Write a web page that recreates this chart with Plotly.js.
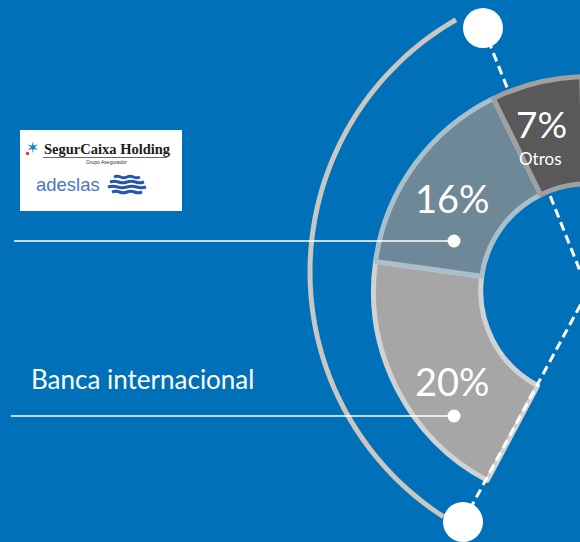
<!DOCTYPE html>
<html><head><meta charset="utf-8">
<script src="https://cdn.plot.ly/plotly-3.0.1.min.js"></script>
<style>
html,body{margin:0;padding:0;overflow:hidden;background:#0070b8;width:580px;height:542px}
#chart{width:1176px;height:542px}
</style>
</head><body><div id="chart"></div>
<script>
// ---- data ----
const labels = ['Banca internacional', 'SegurCaixa Adeslas', 'Otros', 'Resto'];
const values = [20, 16, 7, 60];
const sliceNames = ['', '', 'Otros', ''];
const sideLabel = 'Banca internacional';

// ---- geometry helpers (pixel -> paper) ----
const W = 1176, H = 542;
const px = x => x / W;
const py = y => 1 - y / H;
const CX = 588, CY = 291, R = 214.5;

const fills = ['#a6a6a6', '#6f8898', '#595959', 'rgba(0,0,0,0)'];
const borders = ['#d2d2d2', '#a9bfca', '#a0a0a0', 'rgba(0,0,0,0)'];
const borderW = [5, 5, 5, 0];

const pie = {
  type: 'pie',
  labels: labels,
  values: values,
  sort: false,
  direction: 'clockwise',
  rotation: 208,
  hole: 0.5,
  textinfo: 'none',
  hoverinfo: 'skip',
  marker: {colors: fills, line: {color: borders, width: borderW}},
  domain: {x: [px(CX - R), px(CX + R)], y: [py(CY + R), py(CY - R)]},
  showlegend: false
};

function arcPath(cx, cy, r, a0, a1, n) {
  let d = '';
  for (let i = 0; i <= n; i++) {
    const a = (a0 + (a1 - a0) * i / n) * Math.PI / 180;
    const x = cx + r * Math.cos(a), y = cy - r * Math.sin(a);
    d += (i ? 'L' : 'M') + px(x).toFixed(5) + ',' + py(y).toFixed(5);
  }
  return d;
}
function circ(x, y, r, color, layer) {
  return {type: 'circle', xref: 'paper', yref: 'paper', layer: layer || 'above',
    x0: px(x - r), x1: px(x + r), y0: py(y + r), y1: py(y - r),
    fillcolor: color, line: {width: 0}};
}
function seg(x0, y0, x1, y1, color, width, dash, layer) {
  return {type: 'line', xref: 'paper', yref: 'paper', layer: layer || 'above',
    x0: px(x0), y0: py(y0), x1: px(x1), y1: py(y1),
    line: {color: color, width: width, dash: dash || 'solid'}};
}
function wave(x0, x1, y, amp) {
  const w = (x1 - x0) / 2;
  const d = 'M' + px(x0) + ',' + py(y) +
    ' C' + px(x0 + w * 0.5) + ',' + py(y - amp) + ' ' + px(x0 + w * 0.5) + ',' + py(y + amp) + ' ' + px(x0 + w) + ',' + py(y) +
    ' C' + px(x0 + w * 1.5) + ',' + py(y - amp) + ' ' + px(x0 + w * 1.5) + ',' + py(y + amp) + ' ' + px(x1) + ',' + py(y);
  return {type: 'path', xref: 'paper', yref: 'paper', layer: 'above', path: d,
    line: {color: '#2456ad', width: 3}};
}

const shapes = [
  // dashed radial lines
  seg(483, 27, CX, CY, '#ffffff', 3, '9px,5px', 'below'),
  seg(463, 522, CX, CY, '#ffffff', 3, '9px,5px', 'above'),
  // outer arc
  {type: 'path', xref: 'paper', yref: 'paper', layer: 'above',
   path: arcPath(601, 272, 291, 119.9, 237.2, 80), line: {color: '#c9c7c1', width: 5}},
  circ(483, 28, 20, '#ffffff'),
  circ(463, 522, 20, '#ffffff'),
  // leader lines
  seg(14, 241, 454, 241, '#ffffff', 1.5),
  seg(11, 416, 454, 416, '#ffffff', 1.5),
  circ(454, 241, 6.5, '#ffffff'),
  circ(454, 416, 6.5, '#ffffff'),
  // logo box
  {type: 'rect', xref: 'paper', yref: 'paper', layer: 'above',
   x0: px(20), x1: px(182), y0: py(211), y1: py(130), fillcolor: '#ffffff', line: {width: 0}},
  seg(43, 157.5, 167, 157.5, '#444444', 0.8),
  wave(114, 140, 177, 3), wave(110, 144, 182, 3), wave(108, 146, 187, 3), wave(112, 142, 192, 3),
  circ(27.5, 153.5, 1.8, '#e03c31')
];

const textFont = 'Lato, "Open Sans", sans-serif';
function ann(x, y, text, size, color, family, extra) {
  return Object.assign({xref: 'paper', yref: 'paper', x: px(x), y: py(y), text: text,
    showarrow: false, xanchor: 'center', yanchor: 'middle',
    font: {size: size, color: color, family: family || textFont}}, extra || {});
}

const annotations = [
  ann(452, 381, values[0] + '%', 38, '#ffffff'),
  ann(452, 198, values[1] + '%', 38, '#ffffff'),
  ann(541, 123, values[2] + '%', 37, '#ffffff'),
  ann(540, 158, sliceNames[2], 17, '#ffffff'),
  ann(142.5, 379, sideLabel, 26, '#ffffff'),
  // logo texts
  ann(42, 149, '<b>SegurCaixa Holding</b>', 14.5, '#1c1c1c', '"Liberation Serif", serif', {xanchor: 'left'}),
  ann(106, 162, 'Grupo Asegurador', 5, '#333333', '"Liberation Sans", sans-serif'),
  ann(32, 147, '✶', 16, '#1683c6', '"DejaVu Sans", sans-serif'),
  ann(34, 185, 'adeslas', 18.5, '#4b76c5', '"Liberation Sans", Arial, sans-serif', {xanchor: 'left'})
];

const layout = {
  width: W, height: H,
  margin: {l: 0, r: 0, t: 0, b: 0},
  paper_bgcolor: '#0070b8',
  plot_bgcolor: '#0070b8',
  showlegend: false,
  shapes: shapes,
  annotations: annotations
};

Plotly.newPlot('chart', [pie], layout, {displayModeBar: false, staticPlot: true});
</script>
</body></html>
